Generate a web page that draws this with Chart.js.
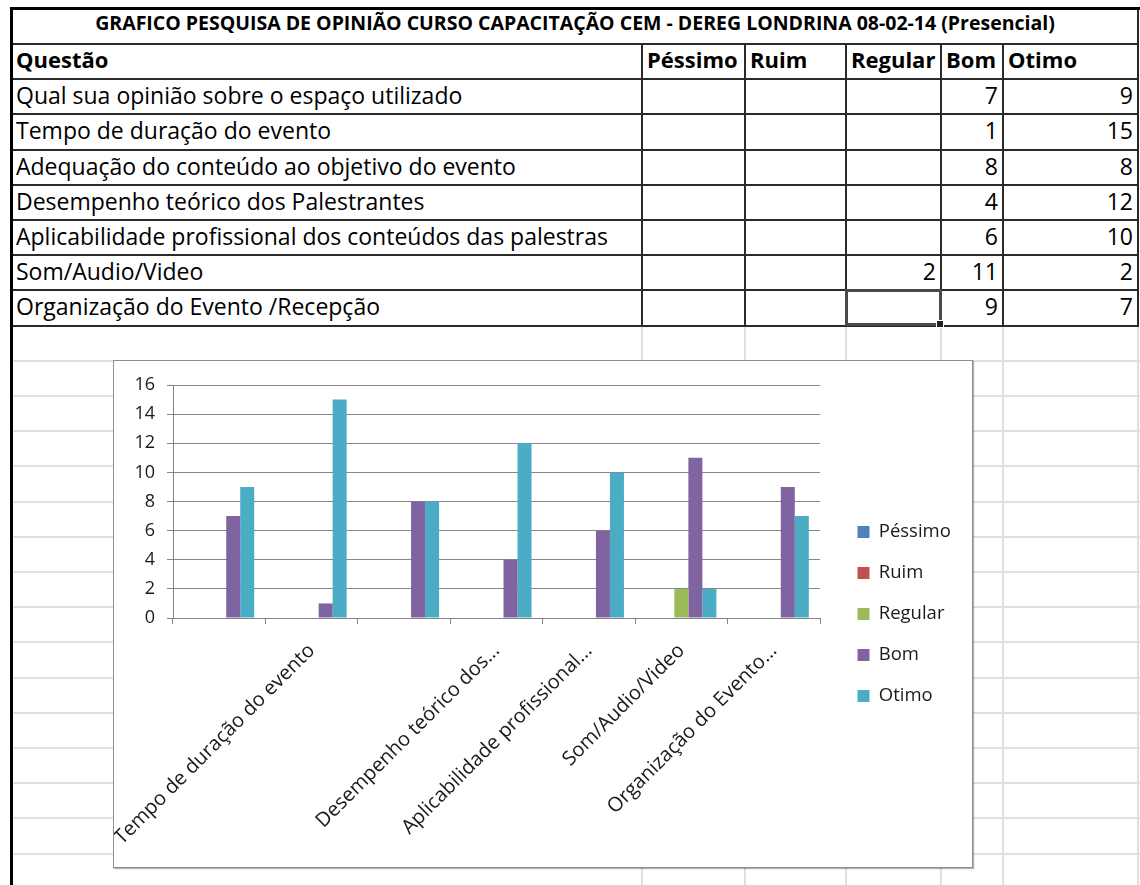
<!DOCTYPE html>
<html><head><meta charset="utf-8">
<script src="https://cdn.jsdelivr.net/npm/chart.js@4/dist/chart.umd.min.js"></script>
<style>
html,body{margin:0;padding:0;background:#fff;width:1140px;height:885px;overflow:hidden;position:relative;font-family:"Open Sans",sans-serif;}
.l{position:absolute;}
.t{position:absolute;white-space:nowrap;color:#000;overflow:hidden;}
#chartBox{position:absolute;left:113px;top:360px;width:858px;height:506px;border:1px solid #8f8f8f;background:#fff;box-shadow:1px 1px 1px rgba(0,0,0,0.3);}
#chartBox canvas{display:block;}
</style></head><body>
<div id="sheet"></div>
<div id="chartBox"><canvas id="c" width="858" height="506"></canvas></div>
<script>
// ---- data ----
const title = "GRAFICO PESQUISA DE OPINIÃO CURSO CAPACITAÇÃO CEM - DEREG LONDRINA 08-02-14 (Presencial)";
const headerLabel = "Questão";
const seriesNames = ["Péssimo", "Ruim", "Regular", "Bom", "Otimo"];
const questions = [
  "Qual sua opinião sobre o espaço utilizado",
  "Tempo de duração do evento",
  "Adequação do conteúdo ao objetivo do evento",
  "Desempenho teórico dos Palestrantes",
  "Aplicabilidade profissional dos conteúdos das palestras",
  "Som/Audio/Video",
  "Organização do Evento /Recepção"
];
const pessimo = [null, null, null, null, null, null, null];
const ruim = [null, null, null, null, null, null, null];
const regular = [null, null, null, null, null, 2, null];
const bom = [7, 1, 8, 4, 6, 11, 9];
const otimo = [9, 15, 8, 12, 10, 2, 7];
const tickLabels = ["", "Tempo de duração do evento", "", "Desempenho teórico dos...", "Aplicabilidade profissional...", "Som/Audio/Video", "Organização do Evento..."];
const yMin = 0, yMax = 16, yStep = 2;
const seriesColors = ["#4F81BD", "#C0504D", "#9BBB59", "#8064A2", "#4BACC6"];
const seriesData = [pessimo, ruim, regular, bom, otimo];

// ---- spreadsheet background & table ----
const sheet = document.getElementById('sheet');
function line(x, y, w, h, color) {
  const d = document.createElement('div'); d.className = 'l';
  d.style.cssText = `left:${x}px;top:${y}px;width:${w}px;height:${h}px;background:${color}`;
  sheet.appendChild(d);
}
function text(s, x, y, w, h, align, font) {
  const d = document.createElement('div'); d.className = 't';
  d.style.cssText = `left:${x}px;top:${y}px;width:${w}px;height:${h}px;line-height:${h}px;text-align:${align};font:${font}`;
  d.textContent = s; sheet.appendChild(d);
}
const colX = [12, 642, 745, 846, 941, 1003, 1138];
const rowY = [8.6, 44, 79.2, 114.4, 149.6, 184.8, 220, 255.2, 290.4, 325.6];
// light cell gridlines below the table
for (let y = rowY[9] + 35.2; y < 890; y += 35.2) line(13, Math.round(y) - 1, 1127, 2, '#e0e0e0');
for (const x of colX.slice(1)) line(x - 1, 326, 2, 560, '#e0e0e0');
// table borders
for (let i = 1; i < rowY.length; i++) line(12, Math.round(rowY[i]) - 1, 1127, 2, '#2a2a2a');
for (let i = 1; i < colX.length; i++) line(colX[i] - 1, 44, 2, 282, '#2a2a2a');
line(1137, 8, 2, 37, '#2a2a2a');
// page edge
line(10, 7, 1130, 3, '#000');
line(10, 7, 3, 880, '#000');
// texts
text(title, 12, 9, 1126, 35, 'center', 'bold 19.5px "Open Sans"');
text(headerLabel, 16, 44, 620, 35, 'left', 'bold 22px "Open Sans"');
for (let j = 0; j < seriesNames.length; j++) {
  text(seriesNames[j], colX[j + 1] + 5, 44, colX[j + 2] - colX[j + 1] - 6, 35, 'left', 'bold 22px "Open Sans"');
}
for (let i = 0; i < questions.length; i++) {
  const y = rowY[i + 2];
  text(questions[i], 16, y, 624, 35, 'left', '23px "Open Sans"');
  for (let j = 0; j < seriesData.length; j++) {
    const v = seriesData[j][i];
    if (v !== null) text(String(v), colX[j + 1], y, colX[j + 2] - colX[j + 1] - 5, 35, 'right', '23px "Open Sans"');
  }
}
// selected cell
(function () {
  const d = document.createElement('div'); d.className = 'l';
  d.style.cssText = 'left:845px;top:289px;width:91px;height:31px;border:3px solid #4a4a4a;';
  sheet.appendChild(d);
  const h = document.createElement('div'); h.className = 'l';
  h.style.cssText = 'left:936px;top:320px;width:6px;height:6px;background:#222;border:1px solid #fff;';
  sheet.appendChild(h);
})();

// ---- chart ----
Chart.defaults.font.family = "'Open Sans', sans-serif";
Chart.defaults.color = '#1a1a1a';
const legendPlace = {
  id: 'legendPlace',
  afterInit(chart) {
    const lg = chart.legend;
    const f = lg.fit;
    lg.fit = function () { f.call(this); this.width = 152; };
  },
  afterLayout(chart) {
    const lg = chart.legend;
    lg.left = 721; lg.right = lg.left + lg.width;
    lg.top = 0; lg.bottom = chart.height; lg.height = chart.height;
  }
};
new Chart(document.getElementById('c'), {
  type: 'bar',
  data: {
    labels: questions,
    datasets: seriesNames.map((n, i) => ({
      label: n, data: seriesData[i], backgroundColor: seriesColors[i], borderWidth: 0,
      categoryPercentage: 0.758, barPercentage: 1
    }))
  },
  options: {
    responsive: false, animation: false,
    layout: { padding: { top: 24, left: 0, right: 0, bottom: 0 } },
    plugins: {
      legend: { position: 'right', labels: { boxWidth: 12, boxHeight: 12, padding: 22.5, font: { size: 18.5 } } },
      tooltip: { enabled: false }
    },
    scales: {
      x: {
        grid: { drawOnChartArea: false, drawTicks: true, tickLength: 6, color: '#868686', offset: true },
        border: { color: '#868686' },
        ticks: { autoSkip: false, minRotation: 45, maxRotation: 45, padding: 15, font: { size: 20 },
          callback: (v, i) => tickLabels[i] },
        afterFit: s => { s.height = 249; }
      },
      y: {
        min: yMin, max: yMax,
        ticks: { stepSize: yStep, padding: 12, font: { size: 18 } },
        grid: { color: '#868686', tickLength: 6 },
        border: { color: '#868686' },
        afterFit: s => { s.width = 59; }
      }
    }
  },
  plugins: [legendPlace]
});
</script>
</body></html>
